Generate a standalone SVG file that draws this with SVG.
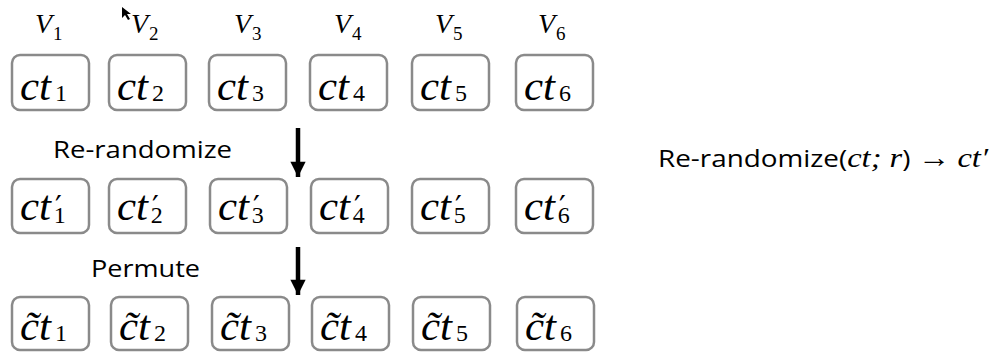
<svg xmlns="http://www.w3.org/2000/svg" width="999" height="353" viewBox="0 0 999 353">
<style>
.box{fill:#fff;stroke:#8a8a8a;stroke-width:2.5}
.m{font-family:"Liberation Serif","DejaVu Serif",serif;font-style:italic;font-size:43px;fill:#000}
.sub{font-family:"Liberation Serif","DejaVu Serif",serif;font-style:normal;font-size:24px}
.pr{font-family:"DejaVu Sans","Liberation Serif",serif;font-style:normal;font-size:30px}
.v{font-family:"Liberation Serif","DejaVu Serif",serif;font-style:italic;font-size:28px;fill:#000}
.vs{font-family:"Liberation Serif","DejaVu Serif",serif;font-style:normal;font-size:19px}
.lbl{font-family:"Open Sans","Liberation Sans",sans-serif;font-size:24px;fill:#000}
.mi{font-family:"Liberation Serif","DejaVu Serif",serif;font-style:italic;font-size:28px}
.arr{stroke:#000;stroke-width:4.5;fill:none}
</style>
<defs>
<marker id="ah" viewBox="0 0 10 10" refX="10" refY="5" markerWidth="4.6" markerHeight="3.4" markerUnits="strokeWidth" orient="auto">
<path d="M0,0 L10,5 L0,10 Z" fill="#000"/>
</marker>
</defs>
<rect width="999" height="353" fill="#fff"/>
<g id="labels-v">
<text class="v" x="35" y="33">V<tspan class="vs" dx="1" dy="7">1</tspan></text>
<text class="v" x="131" y="33">V<tspan class="vs" dx="1" dy="7">2</tspan></text>
<text class="v" x="234" y="33">V<tspan class="vs" dx="1" dy="7">3</tspan></text>
<text class="v" x="334" y="33">V<tspan class="vs" dx="1" dy="7">4</tspan></text>
<text class="v" x="435" y="33">V<tspan class="vs" dx="1" dy="7">5</tspan></text>
<text class="v" x="538" y="33">V<tspan class="vs" dx="1" dy="7">6</tspan></text>
</g>
<polygon id="cursor" points="122,7 122,18 125,15 128,20 130,19 127,14 131,14" fill="#000"/>
<g id="row1">
<g id="ct1"><rect class="box" x="12" y="55" width="77" height="55" rx="8"/><text class="m" x="20" y="100">ct<tspan class="sub" dx="4" dy="1">1</tspan></text></g>
<g id="ct2"><rect class="box" x="109" y="55" width="77" height="55" rx="8"/><text class="m" x="117" y="100">ct<tspan class="sub" dx="4" dy="1">2</tspan></text></g>
<g id="ct3"><rect class="box" x="209" y="55" width="77" height="55" rx="8"/><text class="m" x="217" y="100">ct<tspan class="sub" dx="4" dy="1">3</tspan></text></g>
<g id="ct4"><rect class="box" x="310" y="55" width="77" height="55" rx="8"/><text class="m" x="318" y="100">ct<tspan class="sub" dx="4" dy="1">4</tspan></text></g>
<g id="ct5"><rect class="box" x="412" y="55" width="77" height="55" rx="8"/><text class="m" x="420" y="100">ct<tspan class="sub" dx="4" dy="1">5</tspan></text></g>
<g id="ct6"><rect class="box" x="516" y="55" width="77" height="55" rx="8"/><text class="m" x="524" y="100">ct<tspan class="sub" dx="4" dy="1">6</tspan></text></g>
</g>
<text class="lbl" x="53" y="158" textLength="179" lengthAdjust="spacingAndGlyphs">Re-randomize</text>
<text class="lbl" x="658" y="167" textLength="330" lengthAdjust="spacingAndGlyphs">Re-randomize(<tspan class="mi">ct</tspan><tspan class="mi" font-style="normal">; </tspan><tspan class="mi">r</tspan>) <tspan font-size="28">→</tspan> <tspan class="mi">ct</tspan><tspan class="mi" font-style="normal">′</tspan></text>
<g id="row2">
<g id="ctp1"><rect class="box" x="12" y="179" width="77" height="54" rx="8"/><text class="m" x="20" y="220">ct<tspan class="pr" dx="4" dy="-3">′</tspan><tspan class="sub" dx="-8" dy="6">1</tspan></text></g>
<g id="ctp2"><rect class="box" x="109" y="179" width="77" height="54" rx="8"/><text class="m" x="117" y="220">ct<tspan class="pr" dx="4" dy="-3">′</tspan><tspan class="sub" dx="-8" dy="6">2</tspan></text></g>
<g id="ctp3"><rect class="box" x="210" y="179" width="77" height="54" rx="8"/><text class="m" x="218" y="220">ct<tspan class="pr" dx="4" dy="-3">′</tspan><tspan class="sub" dx="-8" dy="6">3</tspan></text></g>
<g id="ctp4"><rect class="box" x="311" y="179" width="77" height="54" rx="8"/><text class="m" x="319" y="220">ct<tspan class="pr" dx="4" dy="-3">′</tspan><tspan class="sub" dx="-8" dy="6">4</tspan></text></g>
<g id="ctp5"><rect class="box" x="412" y="179" width="77" height="54" rx="8"/><text class="m" x="420" y="220">ct<tspan class="pr" dx="4" dy="-3">′</tspan><tspan class="sub" dx="-8" dy="6">5</tspan></text></g>
<g id="ctp6"><rect class="box" x="516" y="179" width="77" height="54" rx="8"/><text class="m" x="524" y="220">ct<tspan class="pr" dx="4" dy="-3">′</tspan><tspan class="sub" dx="-8" dy="6">6</tspan></text></g>
</g>
<text class="lbl" x="91" y="277" textLength="109" lengthAdjust="spacingAndGlyphs">Permute</text>
<g id="row3">
<g id="ctt1"><rect class="box" x="12" y="297" width="77" height="53" rx="8"/><text class="m" x="20" y="340">c&#771;t<tspan class="sub" dx="4" dy="1">1</tspan></text></g>
<g id="ctt2"><rect class="box" x="111" y="297" width="77" height="53" rx="8"/><text class="m" x="119" y="340">c&#771;t<tspan class="sub" dx="4" dy="1">2</tspan></text></g>
<g id="ctt3"><rect class="box" x="212" y="297" width="77" height="53" rx="8"/><text class="m" x="220" y="340">c&#771;t<tspan class="sub" dx="4" dy="1">3</tspan></text></g>
<g id="ctt4"><rect class="box" x="312" y="297" width="77" height="53" rx="8"/><text class="m" x="320" y="340">c&#771;t<tspan class="sub" dx="4" dy="1">4</tspan></text></g>
<g id="ctt5"><rect class="box" x="413" y="297" width="77" height="53" rx="8"/><text class="m" x="421" y="340">c&#771;t<tspan class="sub" dx="4" dy="1">5</tspan></text></g>
<g id="ctt6"><rect class="box" x="517" y="297" width="77" height="53" rx="8"/><text class="m" x="525" y="340">c&#771;t<tspan class="sub" dx="4" dy="1">6</tspan></text></g>
</g>
<g id="connectors">
<line class="arr" x1="298" y1="128" x2="298" y2="177" marker-end="url(#ah)"/>
<line class="arr" x1="298" y1="247" x2="298" y2="295" marker-end="url(#ah)"/>
</g>
</svg>
